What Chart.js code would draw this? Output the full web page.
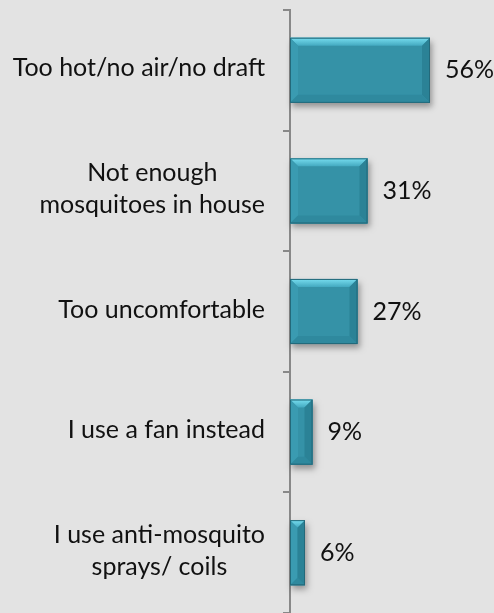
<!DOCTYPE html>
<html>
<head>
<meta charset="utf-8">
<script src="https://cdn.jsdelivr.net/npm/chart.js@4"></script>
<style>
  html, body { margin: 0; padding: 0; background: #e3e3e3; }
  #wrap { width: 494px; height: 613px; position: relative; }
</style>
</head>
<body>
<div id="wrap"><canvas id="chart"></canvas></div>
<script>
// Reasons for not using a bed net
const reasons = [
    ["Too hot/no air/no draft"],
    ["Not enough", "mosquitoes in house"],
    ["Too uncomfortable"],
    ["I use a fan instead"],
    ["I use anti-mosquito", "sprays/ coils"]
];
const shares = [56, 31, 27, 9, 6];
const valueLabels = ["56%", "31%", "27%", "9%", "6%"];

const FONT = "25px Lato";

// bevelled bars + shadow, drawn over the plain bars
const bevelBars = {
    id: "bevelBars",
    afterDatasetsDraw(chart) {
        const ctx = chart.ctx;
        chart.getDatasetMeta(0).data.forEach(bar => {
            const L = Math.min(bar.base, bar.x), R = Math.max(bar.base, bar.x);
            const T = bar.y - bar.height / 2, B = bar.y + bar.height / 2;
            const b = Math.min(8, (R - L) / 2, (B - T) / 2);
            ctx.save();
            ctx.shadowColor = "rgba(0,0,0,0.35)";
            ctx.shadowBlur = 6;
            ctx.shadowOffsetX = 2;
            ctx.shadowOffsetY = 4;
            ctx.fillStyle = "#3592a7";
            ctx.fillRect(L, T, R - L, B - T);
            ctx.restore();

            const poly = (pts, fill) => {
                ctx.beginPath();
                ctx.moveTo(pts[0][0], pts[0][1]);
                pts.slice(1).forEach(p => ctx.lineTo(p[0], p[1]));
                ctx.closePath();
                ctx.fillStyle = fill;
                ctx.fill();
            };
            const top = ctx.createLinearGradient(0, T, 0, T + b);
            top.addColorStop(0, "#78def0");
            top.addColorStop(1, "#43a9c0");
            poly([[L, T], [R, T], [R - b, T + b], [L + b, T + b]], top);
            poly([[L, T], [L + b, T + b], [L + b, B - b], [L, B]], "#3a9bb1");
            poly([[R, T], [R, B], [R - b, B - b], [R - b, T + b]], "#2b8296");
            poly([[L, B], [R, B], [R - b, B - b], [L + b, B - b]], "#2f899e");

            ctx.save();
            ctx.strokeStyle = "#23697a";
            ctx.lineWidth = 1;
            ctx.strokeRect(L + 0.5, T + 0.5, R - L - 1, B - T - 1);
            ctx.restore();
        });
    },
    afterDraw(chart) {
        const ctx = chart.ctx;
        const yScale = chart.scales.y;
        const meta = chart.getDatasetMeta(0);
        ctx.save();
        ctx.font = FONT;
        ctx.fillStyle = "#111";
        ctx.textBaseline = "middle";

        // category labels: block right-aligned, lines centred within it
        const right = chart.chartArea.left - 25;
        const lh = 32;
        reasons.forEach((lines, i) => {
            const cy = yScale.getPixelForValue(i) - 2;
            const w = Math.max(...lines.map(s => ctx.measureText(s).width));
            ctx.textAlign = "center";
            lines.forEach((s, k) => {
                ctx.fillText(s, right - w / 2, cy - (lines.length - 1) * lh / 2 + k * lh);
            });
        });

        // value labels to the right of each bar
        ctx.textAlign = "left";
        meta.data.forEach((bar, i) => {
            ctx.fillText(valueLabels[i], bar.x + 15, bar.y);
        });
        ctx.restore();
    }
};

new Chart(document.querySelector("#chart").getContext("2d"), {
    type: "bar",
    data: {
        labels: reasons,
        datasets: [{
            data: shares,
            backgroundColor: "#3592a7",
            borderWidth: 0,
            barPercentage: 0.54,
            categoryPercentage: 1
        }]
    },
    options: {
        indexAxis: "y",
        responsive: true,
        maintainAspectRatio: false,
        animation: false,
        layout: { padding: { top: 10, right: 4, bottom: 0, left: 0 } },
        plugins: {
            legend: { display: false },
            tooltip: { enabled: false }
        },
        scales: {
            x: { display: false, min: 0, max: 80 },
            y: {
                afterFit(scale) { scale.width = 290; },
                ticks: { display: false },
                grid: {
                    offset: true,
                    drawOnChartArea: false,
                    drawTicks: true,
                    tickLength: 7,
                    color: "#888",
                    lineWidth: 2
                },
                border: { display: true, color: "#888", width: 2 }
            }
        }
    },
    plugins: [bevelBars]
});
</script>
</body>
</html>
